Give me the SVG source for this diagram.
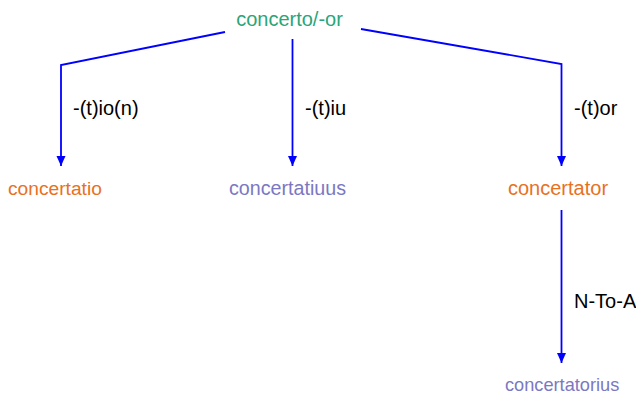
<svg xmlns="http://www.w3.org/2000/svg" width="636" height="394" viewBox="0 0 636 394">
<defs>
<marker id="ah" markerWidth="10" markerHeight="10" refX="10" refY="4.5" orient="auto" markerUnits="userSpaceOnUse">
<path d="M0,0 L10,4.5 L0,9 Z" fill="#0000ff"/>
</marker>
<style>
text{font-family:"Liberation Sans",Arial,sans-serif;font-size:20px}
.lbl{fill:#000}
.g{fill:#2aa57a}
.o{fill:#e8711f}
.p{fill:#7b78c2}
.c{fill:none;stroke:#0000ff;stroke-width:1.8;marker-end:url(#ah)}
</style>
</defs>
<g id="connectors">
<polyline class="c" points="225,32 61,65 61,166"/>
<polyline class="c" points="292.5,39 292.5,166"/>
<polyline class="c" points="361,29 561.5,64 561.5,166"/>
<polyline class="c" points="561.5,210 561.5,363"/>
<text class="lbl" x="73" y="115">-(t)io(n)</text>
<text class="lbl" x="305" y="115">-(t)iu</text>
<text class="lbl" x="574" y="115">-(t)or</text>
<text class="lbl" x="574" y="308">N-To-A</text>
</g>
<g id="n-root"><text class="g" x="289.5" y="26" text-anchor="middle">concerto/-or</text></g>
<g id="n-concertatio"><text class="o" x="8" y="195" style="font-size:19.2px">concertatio</text></g>
<g id="n-concertatiuus"><text class="p" x="229" y="195" style="font-size:19.7px">concertatiuus</text></g>
<g id="n-concertator"><text class="o" x="508" y="195">concertator</text></g>
<g id="n-concertatorius"><text class="p" x="505" y="391" style="font-size:18.2px">concertatorius</text></g>
</svg>
